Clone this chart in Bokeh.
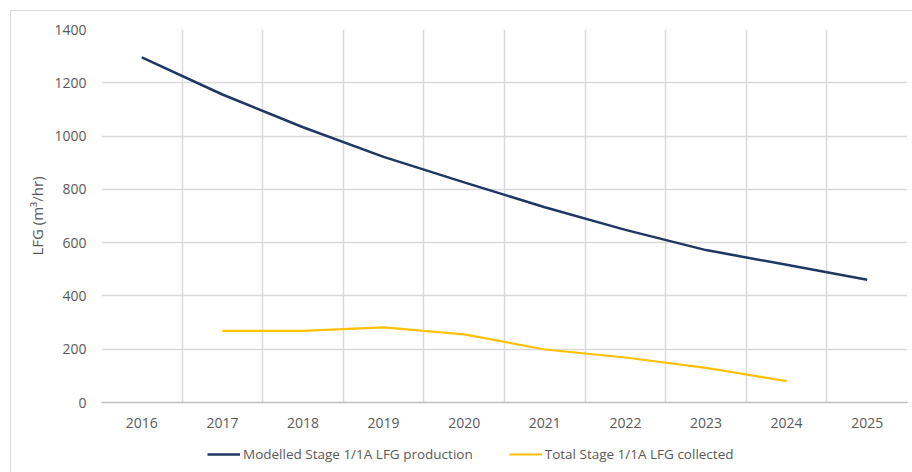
from bokeh.plotting import figure
from bokeh.models import FixedTicker, Legend, LegendItem, Range1d
from bokeh.layouts import column
from bokeh.embed import file_html
from bokeh.resources import INLINE

# Landfill gas: modelled production vs. collected (m3/hr)
years = [2016, 2017, 2018, 2019, 2020, 2021, 2022, 2023, 2024, 2025]
modelled = [1295, 1156, 1033, 922, 826, 733, 648, 572, 517, 461]

collected_years = [2017, 2018, 2019, 2020, 2021, 2022, 2023, 2024]
collected = [269, 269, 282, 256, 199, 169, 130, 80]

y_ticks = [0, 200, 400, 600, 800, 1000, 1200, 1400]

FONT = "Open Sans"
TEXT = "#595959"
GRID = "#d9d9d9"
BLUE = "#1f3763"
GOLD = "#ffc000"
SERIES = ["Modelled Stage 1/1A LFG production", "Total Stage 1/1A LFG collected"]

# light chart-area border painted behind the (transparent) canvases
edge = "linear-gradient(#d9d9d9, #d9d9d9)"
left_edge = f"{edge} 10px 0px / 1px 100% no-repeat"
top_edge = f"{edge} 10px 10px / 100% 1px no-repeat"

p = figure(width=912, height=437, output_backend="svg", toolbar_location=None,
           x_range=Range1d(2015.5, 2025.5), y_range=Range1d(0, 1400),
           min_border_left=101, min_border_right=5, min_border_top=29,
           min_border_bottom=35)
p.outline_line_color = None
p.background_fill_color = "white"
p.border_fill_alpha = 0
p.styles = {"background": f"{edge} 10px 10px / 1px 100% no-repeat, {top_edge}, white"}

# axes
p.xaxis.ticker = FixedTicker(ticks=years)
p.yaxis.ticker = FixedTicker(ticks=y_ticks)
for ax in (p.xaxis[0], p.yaxis[0]):
    ax.major_tick_line_color = None
    ax.minor_tick_line_color = None
    ax.major_label_text_font = FONT
    ax.major_label_text_font_size = "14px"
    ax.major_label_text_color = TEXT
p.xaxis.axis_line_color = "#bfbfbf"
p.xaxis.axis_line_width = 1.5
p.yaxis.axis_line_color = None
p.xaxis.major_label_standoff = 9
p.yaxis.major_label_standoff = 9

p.yaxis.axis_label = "LFG (m³/hr)"
p.yaxis.axis_label_text_font = FONT
p.yaxis.axis_label_text_font_size = "15px"
p.yaxis.axis_label_text_font_style = "normal"
p.yaxis.axis_label_text_color = TEXT
p.yaxis.axis_label_standoff = 4

# grid: horizontal at y ticks, vertical at category boundaries
p.xgrid.ticker = FixedTicker(ticks=[y - 0.5 for y in years] + [years[-1] + 0.5])
p.xgrid.grid_line_color = GRID
p.xgrid.grid_line_width = 1.5
p.ygrid.grid_line_color = GRID
p.ygrid.grid_line_width = 1.5

p.line(years, modelled, line_color=BLUE, line_width=2.5)
p.line(collected_years, collected, line_color=GOLD, line_width=2.2)

# legend strip under the chart; its series sit outside the strip's view,
# so only the legend keys and labels show
lg = figure(width=912, height=35, output_backend="svg", toolbar_location=None,
            x_range=Range1d(0, 1), y_range=Range1d(0, 1),
            min_border_left=0, min_border_right=0, min_border_top=0,
            min_border_bottom=0)
lg.axis.visible = False
lg.grid.visible = False
lg.outline_line_color = None
lg.background_fill_alpha = 0
lg.border_fill_alpha = 0
lg.styles = {"background": f"{left_edge}, white"}
k1 = lg.line(years, modelled, line_color=BLUE, line_width=2.5)
k2 = lg.line(collected_years, collected, line_color=GOLD, line_width=2.2)

legend = Legend(items=[LegendItem(label=SERIES[0], renderers=[k1]),
                       LegendItem(label=SERIES[1], renderers=[k2])],
                orientation="horizontal", location=(106, 8))
legend.border_line_color = None
legend.background_fill_alpha = 0
legend.padding = 0
legend.margin = 0
legend.spacing = 36
legend.glyph_width = 33
legend.label_standoff = 3
legend.label_text_font = FONT
legend.label_text_font_size = "13.5px"
legend.label_text_color = TEXT
lg.add_layout(legend, "center")

open("out.html", "w").write(file_html(column(p, lg, spacing=0), INLINE))
